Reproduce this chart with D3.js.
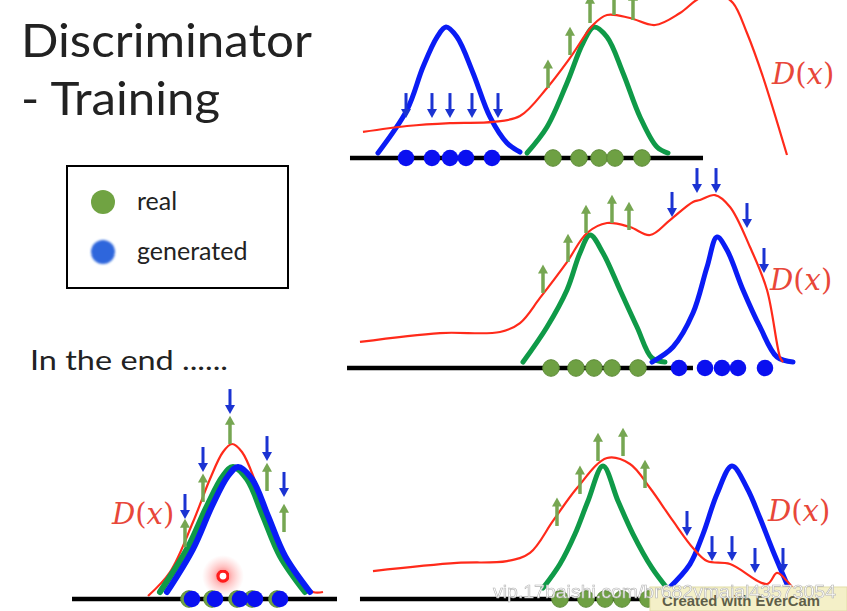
<!DOCTYPE html>
<html><head><meta charset="utf-8">
<script src="https://cdn.jsdelivr.net/npm/d3@7"></script>
<style>html,body{margin:0;padding:0;background:#fff;overflow:hidden}</style>
</head><body><svg id="c" width="847" height="611"></svg>
<script>
// ---------- DATA (x = feature value 0..10, y = density / D(x) value) ----------
// Panel 1 (top right)
const p1Real = [[4.156,0.037],[4.6,0.23],[5.044,0.556],[5.4,0.852],[5.644,0.97],[5.933,0.896],[6.289,0.63],[6.667,0.304],[7.044,0.081],[7.289,0.037]];
const p1Gen  = [[0.844,0.037],[1.489,0.356],[1.844,0.674],[2.156,0.896],[2.356,0.97],[2.6,0.896],[2.956,0.63],[3.333,0.304],[3.711,0.111],[4.0,0.044]];
const p1D    = [[0.511,0.193],[1.489,0.237],[2.444,0.259],[3.4,0.267],[4.0,0.311],[4.6,0.519],[5.111,0.741],[5.622,0.985],[5.933,1.059],[6.444,1.037],[7.0,0.985],[7.556,1.074],[8.0,1.185],[8.444,1.207],[8.733,1.148],[9.044,0.926],[9.4,0.6],[9.933,0.022]];
const p1RealDots = [4.733,5.311,5.756,6.111,6.711];
const p1GenDots  = [1.467,2.044,2.444,2.8,3.378];
const p1Up   = [[4.622,0.519],[5.111,0.763],[5.556,1.0],[6.089,1.059],[6.511,1.022]];
const p1Down = [[1.467,0.296],[2.044,0.296],[2.444,0.296],[2.933,0.296],[3.511,0.296]];
const p1Axis = [0.222,8.067];
const p1Label = [9.6,0.622];

// Panel 2 (middle right)
const p2Real = [[4.067,0.044],[4.6,0.304],[5.044,0.578],[5.333,0.852],[5.556,0.985],[5.844,0.852],[6.222,0.578],[6.6,0.304],[6.933,0.074],[7.222,0.044]];
const p2Gen  = [[6.933,0.044],[7.4,0.156],[7.844,0.407],[8.156,0.748],[8.378,0.97],[8.6,0.874],[8.956,0.578],[9.333,0.304],[9.711,0.081],[10.067,0.044]];
const p2D    = [[0.444,0.193],[2.222,0.259],[3.556,0.267],[4.0,0.333],[4.444,0.519],[5.044,0.785],[5.489,1.0],[5.933,1.074],[6.444,1.044],[6.889,0.985],[7.333,1.096],[7.844,1.23],[8.0,1.244],[8.333,1.281],[8.667,1.193],[9.111,0.896],[9.489,0.578],[9.778,0.081],[9.844,0.044]];
const p2RealDots = [4.689,5.244,5.644,6.044,6.622];
const p2GenDots  = [7.533,8.111,8.489,8.844,9.444];
const p2Up   = [[4.511,0.556],[5.067,0.785],[5.467,1.0],[6.044,1.074],[6.422,1.022]];
const p2Down = [[7.378,1.119],[7.933,1.296],[8.356,1.296],[9.044,1.037],[9.422,0.704]];
const p2Axis = [0.156,7.844];
const p2Label = [9.556,0.652];

// Panel 3 (bottom right)
const p3Real = [[4.511,0.081],[4.889,0.259],[5.222,0.481],[5.511,0.726],[5.844,0.985],[6.178,0.726],[6.511,0.481],[6.933,0.23],[7.267,0.081]];
const p3Gen  = [[7.289,0.074],[7.778,0.259],[8.067,0.481],[8.378,0.778],[8.711,0.985],[9.044,0.822],[9.333,0.6],[9.622,0.356],[10.0,0.059]];
const p3D    = [[0.733,0.207],[2.6,0.267],[3.711,0.281],[4.222,0.341],[4.733,0.578],[5.267,0.822],[5.933,1.044],[6.444,1.0],[6.889,0.822],[7.4,0.578],[7.844,0.378],[8.156,0.281],[8.667,0.259],[9.489,0.111],[9.711,0.193],[9.933,0.133],[10.111,0.059]];
const p3RealDots = [4.889,5.467,5.889,6.267,6.844];
const p3GenDots  = [7.6,8.1,8.5,8.85,9.4];
const p3Up   = [[4.822,0.541],[5.333,0.778],[5.733,1.022],[6.289,1.059],[6.778,0.822]];
const p3Down = [[7.711,0.467],[8.267,0.281],[8.711,0.281],[9.222,0.193],[9.844,0.193]];
const p3Axis = [0.444,7.4];
const p3Label = [9.511,0.652];

// Panel 4 (in the end)
const p4Real = [[3.571,0.052],[4.536,0.37],[5.25,0.689],[5.821,0.911],[6.179,0.978],[6.679,0.889],[7.25,0.615],[7.857,0.319],[8.75,0.052]];
const p4Gen  = [[3.821,0.052],[4.75,0.37],[5.429,0.689],[6.0,0.911],[6.357,0.978],[6.857,0.889],[7.429,0.615],[8.036,0.319],[8.929,0.052]];
const p4D    = [[3.143,0.022],[3.929,0.2],[4.75,0.57],[5.357,0.889],[5.821,1.089],[6.143,1.148],[6.5,1.089],[7.036,0.837],[7.607,0.519],[8.321,0.2],[9.036,0.052],[9.393,0.052]];
const p4RealDots = [4.607,5.429,6.321,6.857,7.75];
const p4GenDots  = [4.714,5.536,6.429,6.964,7.857];
const p4Up   = [[4.464,0.385],[5.107,0.719],[6.071,1.148],[7.393,0.8],[8.0,0.496]];
const p4Down = [[4.464,0.593],[5.107,0.941],[6.071,1.37],[7.393,1.022],[8.0,0.756]];
const p4Axis = [0.429,9.893];
const p4Label = [1.857,0.63];
const p4Marker = [5.821,0.17];

const legendItems = ["real","generated"];
const titleLines = ["Discriminator","- Training"];
const endText = "In the end ......";
const watermark = "vip.17baishi.com/br682vmaial43573054";
const badgeText = "Created with EverCam";

// ---------- STYLE ----------
const C = {real:"#0f9a48", gen:"#0a1cf5", d:"#ff2a1a", dot:"#6ea043", dotStroke:"#5c8a36",
           genDot:"#0a10f0", up:"#76a652", down:"#1b33d2", label:"#e8473a", axis:"#000"};

const svg = d3.select("#c");
svg.append("rect").attr("width",847).attr("height",611).attr("fill","#fff");
const defs = svg.append("defs");
const glow = defs.append("radialGradient").attr("id","glow");
glow.append("stop").attr("offset","0%").attr("stop-color","#ff2020").attr("stop-opacity",0.75);
glow.append("stop").attr("offset","45%").attr("stop-color","#ff5050").attr("stop-opacity",0.35);
glow.append("stop").attr("offset","100%").attr("stop-color","#ff8080").attr("stop-opacity",0);
defs.append("filter").attr("id","soft").append("feGaussianBlur").attr("stdDeviation",0.7);
defs.append("filter").attr("id","soft2").append("feGaussianBlur").attr("stdDeviation",1.2);

const line = (x,y) => d3.line().x(d=>x(d[0])).y(d=>y(d[1])).curve(d3.curveCatmullRom.alpha(0.5));

function arrow(g, x, y0, y1, color, w, hw, hh) {
  const dir = y1 < y0 ? -1 : 1;
  g.append("line").attr("x1",x).attr("x2",x).attr("y1",y0).attr("y2",y1 - dir*hh*0.6)
    .attr("stroke",color).attr("stroke-width",w);
  g.append("path").attr("d",`M${x-hw/2},${y1-dir*hh}L${x+hw/2},${y1-dir*hh}L${x},${y1}Z`).attr("fill",color);
}

function dLabel(g, x, y, size) {
  const t = g.append("text").attr("x",x).attr("y",y).attr("dominant-baseline","central")
    .attr("font-family","'DejaVu Serif', 'Liberation Serif', serif").attr("font-size",size).attr("fill",C.label);
  t.append("tspan").attr("font-style","italic").text("D");
  t.append("tspan").text("(");
  t.append("tspan").attr("font-style","italic").text("x");
  t.append("tspan").text(")");
}

function panel(o) {
  const x = d3.scaleLinear().domain([0,10]).range(o.xr);
  const y = d3.scaleLinear().domain([0,1]).range([o.base, o.base-135]);
  const g = svg.append("g");
  const L = line(x,y);
  g.append("line").attr("x1",x(o.axis[0])).attr("x2",x(o.axis[1])).attr("y1",y(0)).attr("y2",y(0))
    .attr("stroke",C.axis).attr("stroke-width",4.5);
  if (o.end) {
    g.append("path").attr("d",L(o.d)).attr("fill","none").attr("stroke",C.d).attr("stroke-width",2.2);
    g.append("path").attr("d",L(o.real)).attr("fill","none").attr("stroke",C.real).attr("stroke-width",6).attr("stroke-linecap","round");
    g.append("path").attr("d",L(o.gen)).attr("fill","none").attr("stroke",C.gen).attr("stroke-width",6).attr("stroke-linecap","round");
  } else {
    g.append("path").attr("d",L(o.real)).attr("fill","none").attr("stroke",C.real).attr("stroke-width",5).attr("stroke-linecap","round");
    g.append("path").attr("d",L(o.gen)).attr("fill","none").attr("stroke",C.gen).attr("stroke-width",5).attr("stroke-linecap","round");
    g.append("path").attr("d",L(o.d)).attr("fill","none").attr("stroke",C.d).attr("stroke-width",2.2);
  }
  if (o.marker) {
    g.append("circle").attr("cx",x(o.marker[0])).attr("cy",y(o.marker[1])).attr("r",21).attr("fill","url(#glow)");
    g.append("circle").attr("cx",x(o.marker[0])).attr("cy",y(o.marker[1])).attr("r",5).attr("fill","#fff")
      .attr("stroke","#ff1a1a").attr("stroke-width",3.2).attr("filter","url(#soft)");
  }
  g.selectAll(".rd").data(o.realDots).join("circle").attr("cx",d=>x(d)).attr("cy",y(0))
    .attr("r",8.3).attr("fill",C.dot).attr("stroke",C.dotStroke).attr("stroke-width",1);
  g.selectAll(".gd").data(o.genDots).join("circle").attr("cx",d=>x(d)).attr("cy",y(0))
    .attr("r",8.3).attr("fill",C.genDot);
  o.up.forEach(a => arrow(g, x(a[0]), y(a[1]), y(a[1]+0.21), C.up, 3.5, 10, 9));
  o.down.forEach(a => arrow(g, x(a[0]), y(a[1]+0.185), y(a[1]), C.down, 3, 10, 9));
  dLabel(g, x(o.label[0]), y(o.label[1]), 29);
}

panel({xr:[340,790], base:158, real:p1Real, gen:p1Gen, d:p1D, realDots:p1RealDots, genDots:p1GenDots, up:p1Up, down:p1Down, axis:p1Axis, label:p1Label});
panel({xr:[340,790], base:368, real:p2Real, gen:p2Gen, d:p2D, realDots:p2RealDots, genDots:p2GenDots, up:p2Up, down:p2Down, axis:p2Axis, label:p2Label});
panel({xr:[340,790], base:599, real:p3Real, gen:p3Gen, d:p3D, realDots:p3RealDots, genDots:p3GenDots, up:p3Up, down:p3Down, axis:p3Axis, label:p3Label});
panel({xr:[60,340], base:599, real:p4Real, gen:p4Gen, d:p4D, realDots:p4RealDots, genDots:p4GenDots, up:p4Up, down:p4Down, axis:p4Axis, label:p4Label, marker:p4Marker, end:true});

// ---------- TEXT ----------
const FONT = "Lato, 'Open Sans', sans-serif";
svg.append("text").attr("x",21).attr("y",57).attr("font-family",FONT).attr("font-size",47).attr("fill","#222")
  .attr("textLength",291).attr("lengthAdjust","spacingAndGlyphs").text(titleLines[0]);
svg.append("text").attr("x",21).attr("y",115).attr("font-family",FONT).attr("font-size",47).attr("fill","#222")
  .attr("textLength",199).attr("lengthAdjust","spacingAndGlyphs").text(titleLines[1]);

// legend
const lg = svg.append("g");
lg.append("rect").attr("x",67).attr("y",166).attr("width",221).attr("height",122).attr("fill","none").attr("stroke","#000").attr("stroke-width",2);
const ly = d3.scalePoint().domain(legendItems).range([202,252]);
lg.append("circle").attr("cx",103).attr("cy",ly("real")).attr("r",12).attr("fill","#70a342");
lg.append("circle").attr("cx",103).attr("cy",ly("generated")).attr("r",12).attr("fill","#2f66dc").attr("filter","url(#soft2)");
lg.selectAll(".lt").data(legendItems).join("text").attr("x",137).attr("y",d=>ly(d)+8)
  .attr("font-family",FONT).attr("font-size",25).attr("fill","#222").text(d=>d);

svg.append("text").attr("x",30).attr("y",370).attr("font-family",FONT).attr("font-size",27).attr("fill","#222")
  .attr("textLength",198).attr("lengthAdjust","spacingAndGlyphs").text(endText);

// watermark & badge
svg.append("rect").attr("x",650).attr("y",587).attr("width",197).attr("height",24).attr("fill","#f4f0c8").attr("stroke","#e2dda8");
svg.append("text").attr("x",662).attr("y",606).attr("font-family","'Liberation Sans', Arial, sans-serif").attr("font-weight","bold")
  .attr("font-size",14).attr("fill","#5e5e48").attr("textLength",158).attr("lengthAdjust","spacingAndGlyphs").text(badgeText);
svg.append("text").attr("x",493).attr("y",598).attr("font-family","'Liberation Sans', Arial, sans-serif")
  .attr("font-size",19).attr("fill","#fff").attr("stroke","#b0b0b0").attr("stroke-width",0.6).attr("opacity",0.95)
  .attr("textLength",343).attr("lengthAdjust","spacingAndGlyphs").text(watermark);
</script></body></html>
